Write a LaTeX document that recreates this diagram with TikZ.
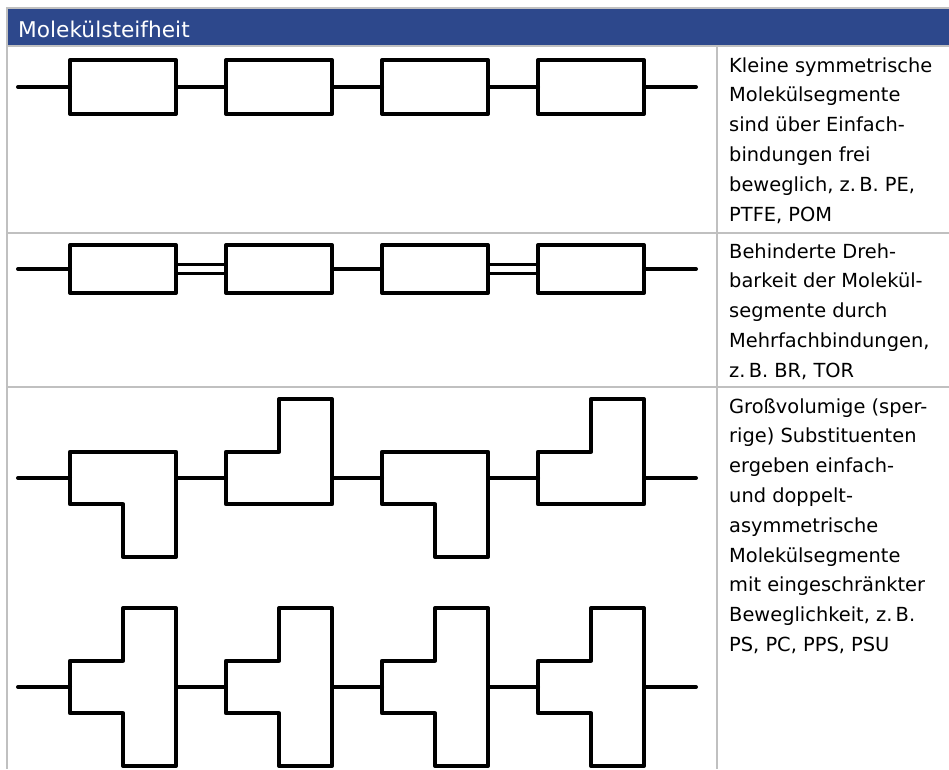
\documentclass[tikz,border=0pt]{standalone}
\usepackage{fontspec}
\setmainfont{DejaVu Sans}
\definecolor{hdrblue}{RGB}{45,72,140}
\definecolor{rulegray}{RGB}{192,192,192}
\begin{document}
\begin{tikzpicture}[x=1pt,y=-1pt,
  mol/.style={line width=4pt, line cap=round, line join=round, black},
  dbl/.style={line width=3pt, black},
  seg/.style={draw, line width=4pt, line join=round, inner sep=0pt, outer sep=0pt,
              minimum width=106pt, anchor=west},
  gridline/.style={rulegray, line width=2pt},
  txt/.style={anchor=base west, inner sep=0pt, font=\fontsize{19.4}{24}\selectfont},
  hdr/.style={anchor=base west, inner sep=0pt, text=white, font=\fontsize{21.7}{26}\selectfont},
  downL/.pic={\draw[mol] (0,-26.3) -- (106,-26.3) -- (106,78.9) -- (53,78.9) -- (53,26.3) -- (0,26.3) -- cycle;
              \coordinate (-w) at (0,0); \coordinate (-e) at (106,0);},
  upL/.pic={\draw[mol] (0,26.3) -- (106,26.3) -- (106,-78.9) -- (53,-78.9) -- (53,-26.3) -- (0,-26.3) -- cycle;
              \coordinate (-w) at (0,0); \coordinate (-e) at (106,0);},
  teeS/.pic={\draw[mol] (0,-26.3) -- (53,-26.3) -- (53,-78.9) -- (106,-78.9) -- (106,78.9) -- (53,78.9) -- (53,26.3) -- (0,26.3) -- cycle;
              \coordinate (-w) at (0,0); \coordinate (-e) at (106,0);}
]
\useasboundingbox (0,0) rectangle (949,769);
% frame and header
\fill[hdrblue] (8,9) rectangle (949,45);
\draw[gridline] (7,8) -- (949,8);
\draw[gridline] (7,7) -- (7,769);
\draw[gridline] (8,46) -- (949,46);
\draw[gridline] (8,233) -- (949,233);
\draw[gridline] (8,387) -- (949,387);
\draw[gridline] (717,47) -- (717,769);
\node[hdr] (title) at (18,37) {Molekülsteifheit};

% row 1
\coordinate (a0) at (18,87);
\node[seg, minimum height=54pt] (a1) at (70,87) {};
\node[seg, minimum height=54pt] (a2) at (226,87) {};
\node[seg, minimum height=54pt] (a3) at (382,87) {};
\node[seg, minimum height=54pt] (a4) at (538,87) {};
\coordinate (a5) at (696,87);
\draw[mol] (a0) -- (a1.west) (a1.east) -- (a2.west) (a2.east) -- (a3.west)
           (a3.east) -- (a4.west) (a4.east) -- (a5);

% row 2
\coordinate (b0) at (18,269);
\node[seg, minimum height=48pt] (b1) at (70,269) {};
\node[seg, minimum height=48pt] (b2) at (226,269) {};
\node[seg, minimum height=48pt] (b3) at (382,269) {};
\node[seg, minimum height=48pt] (b4) at (538,269) {};
\coordinate (b5) at (696,269);
\draw[mol] (b0) -- (b1.west) (b2.east) -- (b3.west) (b4.east) -- (b5);
\draw[dbl] ([yshift=4.2pt]b1.east) -- ([yshift=4.2pt]b2.west)
           ([yshift=-4.2pt]b1.east) -- ([yshift=-4.2pt]b2.west)
           ([yshift=4.2pt]b3.east) -- ([yshift=4.2pt]b4.west)
           ([yshift=-4.2pt]b3.east) -- ([yshift=-4.2pt]b4.west);

% row 3, upper chain
\coordinate (c0) at (18,478);
\pic (c1) at (70,478) {downL};
\pic (c2) at (226,478) {upL};
\pic (c3) at (382,478) {downL};
\pic (c4) at (538,478) {upL};
\coordinate (c5) at (696,478);
\draw[mol] (c0) -- (c1-w) (c1-e) -- (c2-w) (c2-e) -- (c3-w) (c3-e) -- (c4-w) (c4-e) -- (c5);

% row 3, lower chain
\coordinate (d0) at (18,687);
\pic (d1) at (70,687) {teeS};
\pic (d2) at (226,687) {teeS};
\pic (d3) at (382,687) {teeS};
\pic (d4) at (538,687) {teeS};
\coordinate (d5) at (696,687);
\draw[mol] (d0) -- (d1-w) (d1-e) -- (d2-w) (d2-e) -- (d3-w) (d3-e) -- (d4-w) (d4-e) -- (d5);

% texts
\foreach \t [count=\i] in {Kleine symmetrische, Molekülsegmente, sind über Einfach-,
   bindungen frei, {beweglich, z.\,B. PE,}, {PTFE, POM}}
  \node[txt, name=ta\i] at (729,{72+29.8*(\i-1)}) {\t};
\foreach \t [count=\i] in {Behinderte Dreh-, barkeit der Molekül-, segmente durch,
   {Mehrfachbindungen,}, {z.\,B. BR, TOR}}
  \node[txt, name=tb\i] at (729,{258+29.8*(\i-1)}) {\t};
\foreach \t [count=\i] in {Großvolumige (sper-, rige) Substituenten, ergeben einfach-,
   und doppelt-, asymmetrische, Molekülsegmente, mit eingeschränkter,
   {Beweglichkeit, z.\,B.}, {PS, PC, PPS, PSU}}
  \node[txt, name=tc\i] at (729,{413+29.8*(\i-1)}) {\t};
\end{tikzpicture}
\end{document}
